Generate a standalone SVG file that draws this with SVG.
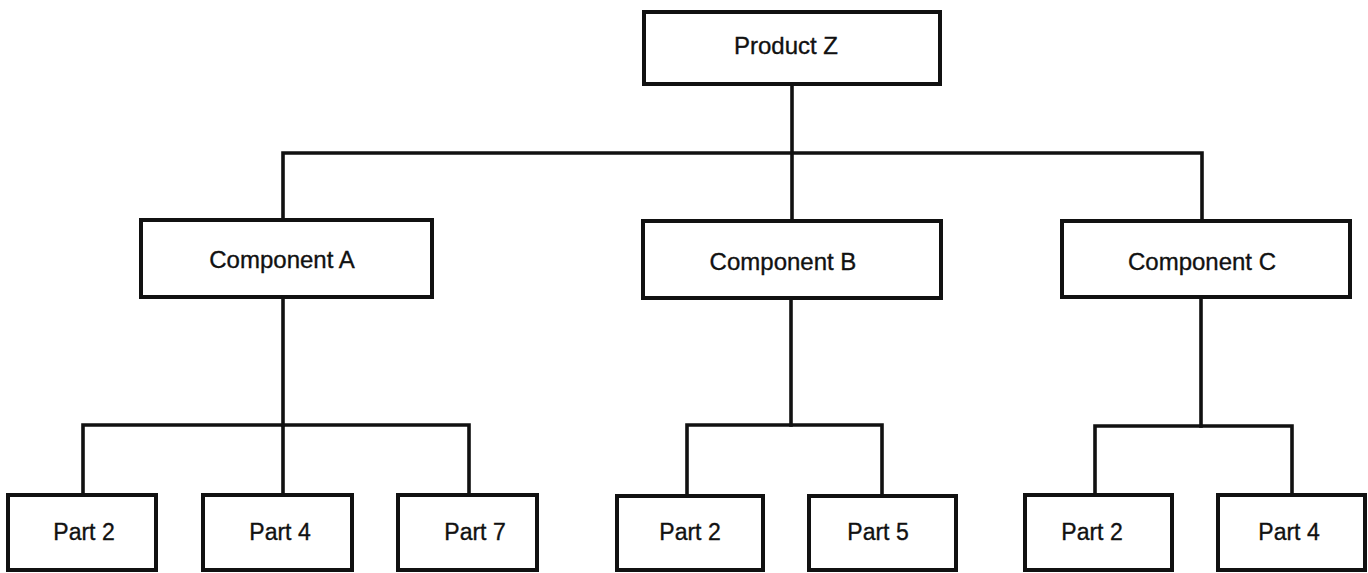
<svg xmlns="http://www.w3.org/2000/svg" width="1368" height="573" viewBox="0 0 1368 573">
  <style>
    .box { fill: #ffffff; stroke: #111111; stroke-width: 4; }
    .link { fill: none; stroke: #111111; stroke-width: 3.6; stroke-linejoin: miter; stroke-linecap: square; }
    .label { font-family: "Liberation Sans", Arial, sans-serif; font-size: 24px; fill: #111111; stroke: #111111; stroke-width: 0.35; text-anchor: middle; }
    .part { font-size: 23px; }
  </style>
  <rect width="1368" height="573" fill="#ffffff"/>

  <!-- connectors -->
  <g id="connectors">
    <path class="link" d="M792,84 V221"/>
    <path class="link" d="M283,220 V153 H1202 V221"/>
    <path class="link" d="M283,297 V425"/>
    <path class="link" d="M83,495 V425 H469 V495 M283,425 V495"/>
    <path class="link" d="M791,298 V425"/>
    <path class="link" d="M687,496 V425 H882 V496"/>
    <path class="link" d="M1201,297 V426"/>
    <path class="link" d="M1095,495 V426 H1292 V495"/>
  </g>

  <g id="product-z">
    <rect class="box" x="644" y="12" width="296" height="72"/>
    <text class="label" x="786" y="54">Product Z</text>
  </g>

  <g id="component-a">
    <rect class="box" x="141" y="220" width="291" height="77"/>
    <text class="label" x="282" y="268">Component A</text>
  </g>
  <g id="component-b">
    <rect class="box" x="643" y="221" width="298" height="77"/>
    <text class="label" x="783" y="270">Component B</text>
  </g>
  <g id="component-c">
    <rect class="box" x="1062" y="221" width="288" height="76"/>
    <text class="label" x="1202" y="270">Component C</text>
  </g>

  <g id="a-part-2">
    <rect class="box" x="8" y="495" width="148" height="75"/>
    <text class="label part" x="84" y="540">Part 2</text>
  </g>
  <g id="a-part-4">
    <rect class="box" x="203" y="495" width="149" height="75"/>
    <text class="label part" x="280" y="540">Part 4</text>
  </g>
  <g id="a-part-7">
    <rect class="box" x="398" y="495" width="139" height="75"/>
    <text class="label part" x="475" y="540">Part 7</text>
  </g>

  <g id="b-part-2">
    <rect class="box" x="617" y="496" width="146" height="74"/>
    <text class="label part" x="690" y="540">Part 2</text>
  </g>
  <g id="b-part-5">
    <rect class="box" x="809" y="496" width="147" height="74"/>
    <text class="label part" x="878" y="540">Part 5</text>
  </g>

  <g id="c-part-2">
    <rect class="box" x="1025" y="495" width="147" height="75"/>
    <text class="label part" x="1092" y="540">Part 2</text>
  </g>
  <g id="c-part-4">
    <rect class="box" x="1218" y="495" width="147" height="75"/>
    <text class="label part" x="1289" y="540">Part 4</text>
  </g>
</svg>
